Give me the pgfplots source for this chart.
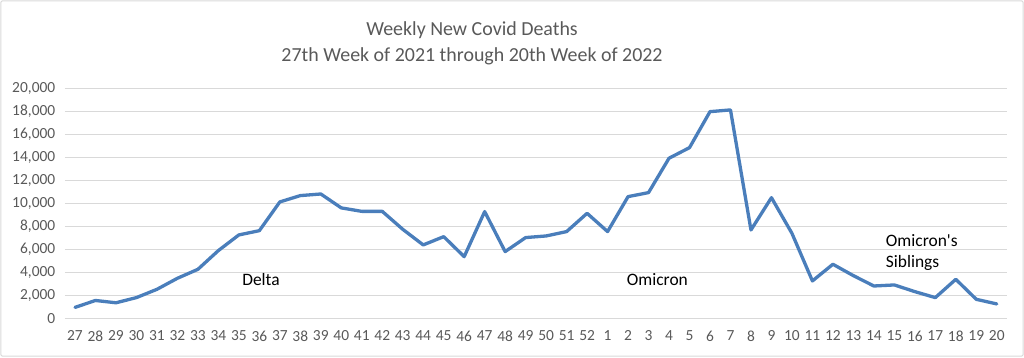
\documentclass[border=0pt]{standalone}
\usepackage{pgfplots}
\pgfplotsset{compat=1.18}
\usepackage{fontspec}
\setmainfont{Carlito}
\newfontfamily\plainfont{Carlito}[Ligatures=ResetAll]
\definecolor{gridgray}{HTML}{D9D9D9}
\definecolor{txtgray}{HTML}{595959}
\definecolor{lineblue}{HTML}{4A7EBB}
\begin{document}
\begin{tikzpicture}[x=1bp,y=1bp]
\useasboundingbox (0,0) rectangle (1024,357);
\draw[gridgray, line width=1bp, rounded corners=2bp] (0.8,0.8) rectangle (1023.2,356.2);
\node[anchor=base, text=txtgray, font=\fontsize{20}{24}\selectfont, inner sep=0] at (472,322) {Weekly New Covid Deaths};
\node[anchor=base, text=txtgray, font=\fontsize{20}{24}\selectfont, inner sep=0] at (472,296) {27th Week of 2021 through 20th Week of 2022};
\begin{axis}[
  at={(64.75bp,38.7bp)}, anchor=south west,
  scale only axis, width=942.25bp, height=230bp,
  xmin=-0.5, xmax=45.5, ymin=0, ymax=20000,
  xtick={0,...,45},
  xticklabels={27,28,29,30,31,32,33,34,35,36,37,38,39,40,41,42,43,44,45,46,47,48,49,50,51,52,1,2,3,4,5,6,7,8,9,10,11,12,13,14,15,16,17,18,19,20},
  ytick={0,2000,...,20000},
  scaled y ticks=false,
  /pgf/number format/1000 sep={,},
  /pgf/number format/fixed,
  /pgf/number format/assume math mode=true,
  tick label style={text=txtgray, font=\fontsize{15.5}{18}\selectfont},
  major tick length=0pt,
  axis line style={draw=none},
  ymajorgrids, grid style={gridgray, line width=1bp},
  xticklabel style={yshift=-9bp},
  yticklabel style={xshift=-6bp},
  clip=false,
]
\addplot[lineblue, line width=3.3bp, line join=round, line cap=round, mark=none] coordinates {
(0,950) (1,1550) (2,1350) (3,1800) (4,2520) (5,3480) (6,4260) (7,5890) (8,7250) (9,7620)
(10,10120) (11,10670) (12,10810) (13,9600) (14,9300) (15,9300) (16,7740) (17,6380) (18,7100) (19,5360)
(20,9280) (21,5800) (22,7020) (23,7160) (24,7540) (25,9130) (26,7540) (27,10580) (28,10930) (29,13920)
(30,14840) (31,17970) (32,18120) (33,7680) (34,10490) (35,7390) (36,3250) (37,4700) (38,3710) (39,2810)
(40,2900) (41,2320) (42,1800) (43,3390) (44,1650) (45,1250)
};
\node[font=\fontsize{17.5}{21}\selectfont, text=black] at (axis cs:9.08,3391) {Delta};
\node[font=\fontsize{17.5}{21}\selectfont, text=black] at (axis cs:28.43,3391) {Omicron};
\node[font=\plainfont\fontsize{17.5}{21.6}\selectfont, text=black, align=left, anchor=west, inner sep=0] at (axis cs:39.58,5720) {Omicron's\\Siblings};
\end{axis}
\end{tikzpicture}
\end{document}
